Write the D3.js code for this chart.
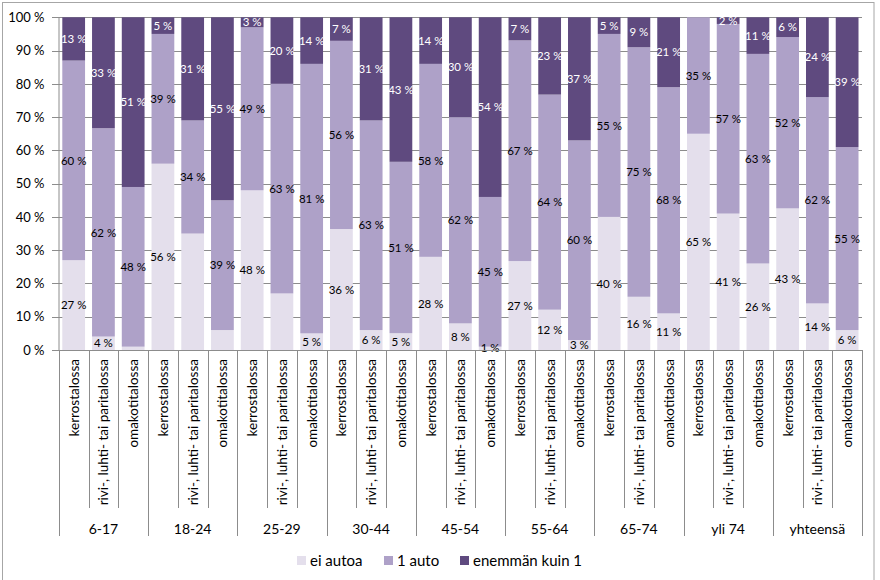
<!DOCTYPE html>
<html><head><meta charset="utf-8">
<script src="https://cdn.jsdelivr.net/npm/d3@7"></script>
<style>body{margin:0;background:#fff;}text{font-family:Lato,"Open Sans",sans-serif;}</style>
</head><body>
<svg id="c" width="880" height="580"></svg>
<script>
const groups = ["6-17","18-24","25-29","30-44","45-54","55-64","65-74","yli 74","yhteensä"];
const types = ["kerrostalossa","rivi-, luhti- tai paritalossa","omakotitalossa"];
const seriesNames = ["ei autoa","1 auto","enemmän kuin 1"];
// values per bar in order group x type
const eiAutoa = [27,4,1, 56,35,6, 48,17,5, 36,6,5, 28,8,1, 27,12,3, 40,16,11, 65,41,26, 43,14,6];
const yksiAuto = [60,62,48, 39,34,39, 49,63,81, 56,63,51, 58,62,45, 67,64,60, 55,75,68, 35,57,63, 52,62,55];
const enemman = [13,33,51, 5,31,55, 3,20,14, 7,31,43, 14,30,54, 7,23,37, 5,9,21, 0,2,11, 6,24,39];
const hiddenLabels = ["6-17|omakotitalossa|ei autoa","18-24|rivi-, luhti- tai paritalossa|ei autoa","18-24|omakotitalossa|ei autoa","25-29|rivi-, luhti- tai paritalossa|ei autoa","yli 74|kerrostalossa|enemmän kuin 1"];
const yTicks = [0,10,20,30,40,50,60,70,80,90,100];
const colors = ["#E4DFEC","#AEA1C8","#5F4A7F"];

const bars = [];
groups.forEach((g,gi)=>types.forEach((t,ti)=>{
  const i = gi*3+ti;
  bars.push({key:g+"|"+t, group:g, type:t, "ei autoa":eiAutoa[i], "1 auto":yksiAuto[i], "enemmän kuin 1":enemman[i]});
}));

const svg = d3.select("#c");
const x0 = 58.8, x1 = 862, yTop = 17.3, yBot = 350;
const x = d3.scaleBand().domain(bars.map(d=>d.key)).range([x0,x1]).paddingInner(0.235).paddingOuter(0.1175);
const y = d3.scaleLinear().domain([0,1]).range([yBot,yTop]);

// outer border
svg.append("rect").attr("x",2.5).attr("y",2.5).attr("width",871.5).attr("height",600).attr("fill","none").attr("stroke","#A6A6A6").attr("stroke-width",1);

// gridlines
svg.append("g").selectAll("line").data(yTicks).join("line")
  .attr("x1",52).attr("x2",x1).attr("y1",d=>Math.round(y(d/100))+0.5).attr("y2",d=>Math.round(y(d/100))+0.5)
  .attr("stroke","#8C8C8C").attr("stroke-width",1);

const stack = d3.stack().keys(seriesNames).offset(d3.stackOffsetExpand);
const stacked = stack(bars);

const gBars = svg.append("g");
stacked.forEach((s,si)=>{
  gBars.selectAll(null).data(s).join("rect")
    .attr("x",d=>x(d.data.key)).attr("width",x.bandwidth())
    .attr("y",d=>y(d[1])).attr("height",d=>Math.max(0,y(d[0])-y(d[1])))
    .attr("fill",colors[si]);
});
// labels
stacked.forEach((s,si)=>{
  gBars.selectAll(null).data(s.filter(d=>d.data[s.key]>0 && !hiddenLabels.includes(d.data.key+"|"+s.key))).join("text")
    .attr("x",d=>x(d.data.key)+x.bandwidth()/2)
    .attr("y",d=>y((d[0]+d[1])/2)).attr("dy","0.36em")
    .attr("text-anchor","middle").attr("font-size",11.5)
    .attr("fill",si===2?"#fff":"#000")
    .text(d=>d.data[s.key]+" %");
});

// y axis
const yAxis = d3.axisLeft(y).tickValues(yTicks.map(v=>v/100)).tickSize(6).tickFormat(d=>Math.round(d*100)+" %");
const ya = svg.append("g").attr("transform",`translate(${x0-0.3},0)`).call(yAxis);
ya.select(".domain").attr("stroke","#8C8C8C").attr("d",`M0.5,${yTop}V${yBot}`);
ya.selectAll(".tick line").remove();
ya.selectAll(".tick text").attr("x",-14).attr("font-size",13).attr("fill","#000").attr("font-family","Lato,sans-serif");

// x axis baseline
svg.append("line").attr("x1",x0).attr("x2",x1).attr("y1",yBot+0.5).attr("y2",yBot+0.5).attr("stroke","#8C8C8C");

// category separators
const step = x.step();
const sepData = d3.range(bars.length+1);
svg.append("g").selectAll("line").data(sepData).join("line")
  .attr("x1",i=>Math.round(x0+i*step)+0.5).attr("x2",i=>Math.round(x0+i*step)+0.5)
  .attr("y1",yBot).attr("y2",i=>i%3===0?536:508)
  .attr("stroke","#8C8C8C");

// category labels
svg.append("g").selectAll("text").data(bars).join("text")
  .attr("transform",d=>`translate(${x(d.key)+x.bandwidth()/2},359) rotate(-90)`)
  .attr("text-anchor","end").attr("dy","0.36em").attr("font-size",13.5)
  .text(d=>d.type);

// group labels
svg.append("g").selectAll("text").data(groups).join("text")
  .attr("x",(g,gi)=>x0+(gi*3+1.5)*step).attr("y",529).attr("dy","0.36em")
  .attr("text-anchor","middle").attr("font-size",14).text(d=>d);

// legend
const legX = [297,384,460];
const leg = svg.append("g").selectAll("g").data(seriesNames).join("g")
  .attr("transform",(d,i)=>`translate(${legX[i]},556)`);
leg.append("rect").attr("width",9).attr("height",9).attr("fill",(d,i)=>colors[i]);
leg.append("text").attr("x",13).attr("y",9.5).attr("font-size",15).text(d=>d);
</script>
</body></html>
